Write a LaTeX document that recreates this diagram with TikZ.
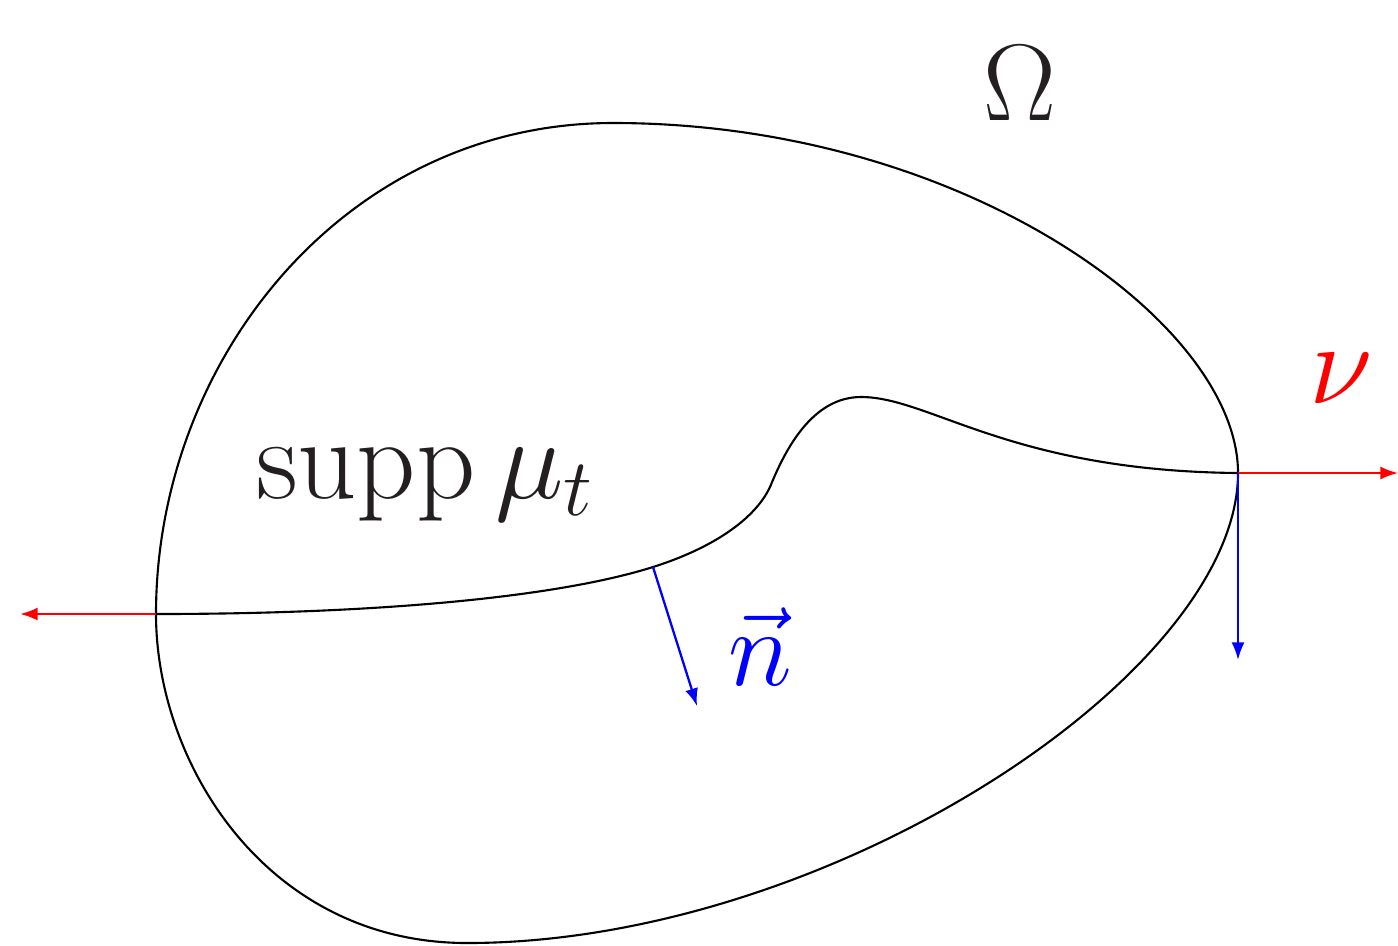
\RequirePackage{fix-cm}
\documentclass[tikz,border=0pt]{standalone}
\usepackage{amsmath}
\usepackage{amssymb}
\usetikzlibrary{arrows.meta}
\definecolor{ink}{HTML}{231F20}

\begin{document}
\begin{tikzpicture}[x=0.01cm, y=-0.01cm,
  vec/.style={-{Latex[length=5pt,width=3.7pt]}, line width=0.65pt},
  curve/.style={line width=0.6pt}]
\useasboundingbox (0,0) rectangle (1398,945);
\coordinate (L) at (156,614);
\coordinate (R) at (1238,473);
\coordinate (N) at (653,567);
\coordinate (Lend) at (20,614);
\coordinate (Rend) at (1398,473);
\coordinate (Rdown) at (1238,660);
\coordinate (Nend) at (697,706);
% boundary of Omega
\draw[curve] (L) .. controls (156,360) and (345,123) .. (613,123)
  .. controls (963,123) and (1238,323) .. (R)
  .. controls (1238,673) and (830,943) .. (467,943)
  .. controls (267,943) and (156,764) .. (L) -- cycle;
% interface
\draw[curve] (L) .. controls (380,614) and (558,597) .. (N)
  .. controls (713,548) and (755,519) .. (770,487)
  .. controls (785,450) and (812,397) .. (861,397)
  .. controls (930,397) and (1010,471) .. (R);
\draw[vec, red] (L) -- (Lend);
\draw[vec, red] (R) -- (Rend);
\draw[vec, blue] (R) -- (Rdown);
\draw[vec, blue] (N) -- (Nend);
\node[text=ink, font=\fontsize{31}{36}\selectfont, anchor=base] (omega) at (1020,120) {$\Omega$};
\node[text=ink, font=\fontsize{33}{38}\selectfont, anchor=base] (supp) at (425,498) {$\operatorname{supp}\mu_t$};
\node[text=red, font=\fontsize{33}{38}\selectfont, anchor=base] (nu) at (1341,403) {$\nu$};
\node[text=blue, font=\fontsize{31}{36}\selectfont, anchor=base] (n) at (760,685) {$\vec{n}$};
\end{tikzpicture}
\end{document}
